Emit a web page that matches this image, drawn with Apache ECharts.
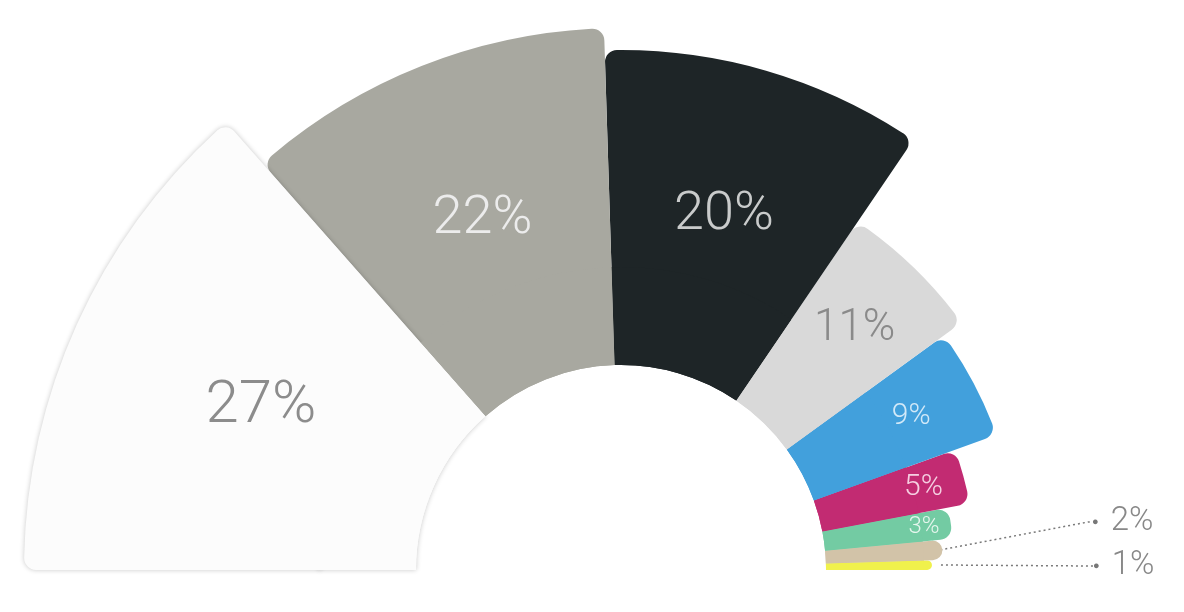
<!DOCTYPE html>
<html>
<head>
<meta charset="utf-8">
<script src="https://cdn.jsdelivr.net/npm/echarts@6/dist/echarts.min.js"></script>
<style>
html,body{margin:0;padding:0;background:#ffffff;}
#chart{width:1184px;height:612px;}
</style>
</head>
<body>
<div id="chart"></div>
<script>
// ---- data ----
const shareLabels = ['27%', '22%', '20%', '11%', '9%', '5%', '3%', '2%', '1%'];
const shareValues = [27, 22, 20, 11, 9, 5, 3, 2, 1];

// ---- styles ----
const sliceColors = ['#fcfcfc', '#a8a8a0', '#1e2527', '#d9d9d9', '#42a0dc', '#c22b72', '#73cba3', '#d2c3a8', '#f0f14c'];
const labelColors = ['#8c8c8c', '#ececec', '#c9cbcb', '#8a8a8a', '#d2e9f8', '#f5cfe1', '#e6f6ee', '#888888', '#888888'];
const labelSizes = [60, 54, 54, 44, 30, 30, 24, 33, 33];

const CENTER = [621, 570];
const OUTSIDE_BELOW = 3;        // slices smaller than this get an outside label
const FONT = 'Roboto, "Noto Sans", sans-serif';

// paint the largest slice last so its soft shadow falls on its neighbour
const order = shareValues.map((_, i) => i).reverse();

function items(extra) {
  return order.map(i => Object.assign({ name: shareLabels[i], value: shareValues[i] }, extra(i)));
}
const shadowOf = i => (i === 0 ? { shadowBlur: 5, shadowColor: 'rgba(0,0,0,0.22)' } : {});
const clear = { color: 'rgba(0,0,0,0)', borderWidth: 0 };

const base = {
  type: 'pie',
  center: CENTER,
  startAngle: 0,
  endAngle: 180,
  clockwise: false,
  silent: true,
  animation: false,
  avoidLabelOverlap: true,
  label: { show: false },
  labelLine: { show: false },
  emphasis: { disabled: true }
};

const option = {
  backgroundColor: '#ffffff',
  series: [
    // inner band, shadow only (bottom layer)
    Object.assign({}, base, {
      radius: [205, 303],
      data: items(i => ({ itemStyle: Object.assign({ color: sliceColors[i], borderWidth: 0 }, shadowOf(i)) }))
    }),
    // outer rose band: radius grows with the value
    Object.assign({}, base, {
      roseType: 'radius',
      radius: [300, 597],
      data: items(i => ({
        itemStyle: Object.assign({ color: sliceColors[i], borderWidth: 0, borderRadius: [0, 12] }, shadowOf(i))
      }))
    }),
    // inner band, clean (covers the seam)
    Object.assign({}, base, {
      radius: [205, 303],
      data: items(i => ({ itemStyle: { color: sliceColors[i], borderWidth: 0 } }))
    }),
    // transparent rose layer that carries the inside labels
    Object.assign({}, base, {
      roseType: 'radius',
      radius: [292, 492],
      label: {
        show: false,
        position: 'inside',
        formatter: '{b}',
        fontFamily: FONT,
        fontWeight: 300,
        textBorderWidth: 0
      },
      data: items(i => ({
        itemStyle: clear,
        label: {
          show: shareValues[i] >= OUTSIDE_BELOW,
          color: labelColors[i],
          fontSize: labelSizes[i]
        }
      }))
    }),
    // transparent layer that carries the outside labels of the thin slices
    Object.assign({}, base, {
      top: 0,
      left: 0,
      width: 1184,
      height: 588,
      radius: [0, 320],
      label: {
        show: false,
        position: 'outside',
        alignTo: 'none',
        distanceToLabelLine: 0,
        formatter: '{dot|●}{t|{b}}',
        fontFamily: FONT,
        fontWeight: 300,
        color: '#888888',
        lineHeight: 42,
        rich: {
          dot: { color: '#777777', fontSize: 11, lineHeight: 42, padding: [0, 12, 0, 0], fontFamily: FONT },
          t: { color: '#888888', fontSize: 33, lineHeight: 42, fontFamily: FONT, fontWeight: 300 }
        }
      },
      labelLine: {
        show: false,
        length: 148,
        length2: 4,
        smooth: false,
        lineStyle: { color: '#7a7a7a', width: 1.5, type: [2, 3] }
      },
      data: items(i => ({
        itemStyle: clear,
        label: { show: shareValues[i] < OUTSIDE_BELOW, fontSize: labelSizes[i] },
        labelLine: { show: shareValues[i] < OUTSIDE_BELOW }
      }))
    })
  ]
};

const chart = echarts.init(document.getElementById('chart'), null, { renderer: 'canvas' });
chart.setOption(option);
</script>
</body>
</html>
